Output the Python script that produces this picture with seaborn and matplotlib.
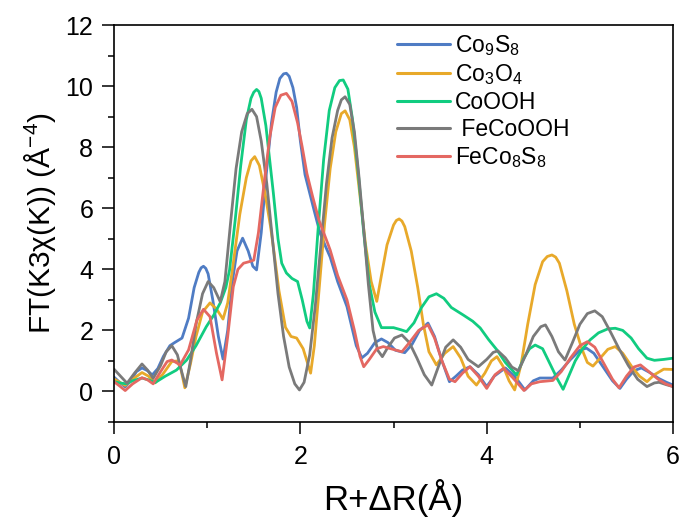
import numpy as np
import pandas as pd
import matplotlib
matplotlib.use("Agg")
import matplotlib.pyplot as plt
from matplotlib.ticker import MultipleLocator
import seaborn as sns

# |FT| of k^3-weighted EXAFS, R-space, per sample
r_co9s8 = [0.00, 0.06, 0.12, 0.18, 0.24, 0.30, 0.36, 0.41, 0.47, 0.53, 0.60, 0.65, 0.73, 0.80, 0.86, 0.91,
           0.935, 0.96, 0.985, 1.01, 1.06, 1.12, 1.17, 1.22, 1.27, 1.32, 1.38, 1.44, 1.49, 1.53, 1.58, 1.63, 1.69, 1.74,
           1.78, 1.82, 1.85, 1.88, 1.92, 1.96, 2.00, 2.05, 2.10, 2.15, 2.21, 2.27, 2.32, 2.40, 2.50, 2.60, 2.66, 2.72,
           2.80, 2.87, 2.94, 3.02, 3.12, 3.20, 3.28, 3.37, 3.44, 3.52, 3.60, 3.67, 3.74, 3.82, 3.91, 4.00,
           4.08, 4.20, 4.30, 4.41, 4.50, 4.57, 4.71, 4.80, 4.90, 5.00, 5.07, 5.15, 5.25, 5.35, 5.43, 5.50,
           5.58, 5.66, 5.75, 5.85, 5.93, 6.00]
ft_co9s8 = [0.47, 0.30, 0.15, 0.35, 0.65, 0.77, 0.68, 0.54, 0.75, 1.15, 1.50, 1.60, 1.75, 2.40, 3.40, 3.90,
            4.05, 4.10, 4.03, 3.85, 3.00, 1.80, 1.06, 2.00, 3.60, 4.60, 5.02, 4.60, 4.10, 3.98, 5.20, 7.00, 8.80, 9.80,
            10.25, 10.40, 10.42, 10.32, 9.95, 9.30, 8.20, 7.10, 6.50, 5.90, 5.20, 4.75, 4.40, 3.60, 2.78, 1.50, 1.10, 1.25,
            1.60, 1.72, 1.60, 1.35, 1.27, 1.55, 2.00, 2.24, 1.80, 1.00, 0.32, 0.50, 0.70, 0.81, 0.55, 0.16,
            0.50, 0.77, 0.50, 0.05, 0.35, 0.44, 0.44, 0.70, 1.05, 1.35, 1.42, 1.25, 0.80, 0.35, 0.10, 0.40,
            0.68, 0.77, 0.62, 0.42, 0.30, 0.21]

r_co3o4 = [0.00, 0.06, 0.12, 0.20, 0.30, 0.37, 0.44, 0.52, 0.62, 0.68, 0.72, 0.76, 0.82, 0.88, 0.95, 1.03,
           1.10, 1.17, 1.22, 1.28, 1.35, 1.42, 1.47, 1.51, 1.56, 1.62, 1.68, 1.71, 1.77, 1.84, 1.90, 1.96,
           2.03, 2.08, 2.11, 2.15, 2.20, 2.26, 2.32, 2.38, 2.44, 2.48, 2.53, 2.58, 2.64, 2.70, 2.76, 2.82,
           2.87, 2.93, 3.00, 3.03, 3.06, 3.09, 3.12, 3.19, 3.26, 3.32, 3.38, 3.46, 3.55, 3.64, 3.72, 3.80, 3.89, 3.98,
           4.05, 4.11, 4.18, 4.24, 4.30, 4.37, 4.44, 4.52, 4.60, 4.65, 4.70, 4.74, 4.78, 4.86, 4.94, 5.02, 5.08, 5.14,
           5.22, 5.30, 5.38, 5.46, 5.56, 5.64, 5.72, 5.80, 5.90, 6.00]
ft_co3o4 = [0.41, 0.30, 0.20, 0.40, 0.62, 0.50, 0.28, 0.55, 0.98, 1.00, 0.70, 0.12, 0.90, 1.80, 2.60, 2.90,
            2.70, 2.37, 2.90, 4.20, 5.80, 7.00, 7.55, 7.69, 7.40, 6.50, 5.40, 4.73, 3.30, 2.10, 1.80, 1.75,
            1.40, 0.90, 0.60, 1.50, 3.30, 5.50, 7.30, 8.50, 9.10, 9.19, 8.90, 8.00, 6.40, 4.80, 3.60, 2.95,
            3.80, 4.80, 5.45, 5.60, 5.65, 5.58, 5.40, 4.60, 3.40, 2.20, 1.30, 0.87, 1.25, 1.47, 1.10, 0.50, 0.21, 0.60,
            1.00, 1.14, 0.80, 0.35, 0.05, 0.90, 2.20, 3.50, 4.25, 4.42, 4.47, 4.40, 4.20, 3.30, 2.20, 1.40, 0.95, 0.83,
            1.10, 1.38, 1.47, 1.25, 0.80, 0.50, 0.32, 0.55, 0.73, 0.72]

r_cooh = [0.00, 0.06, 0.13, 0.20, 0.30, 0.37, 0.44, 0.55, 0.67, 0.78, 0.88, 0.99, 1.07, 1.14, 1.20, 1.24,
          1.30, 1.36, 1.42, 1.47, 1.50, 1.53, 1.555, 1.58, 1.63, 1.67, 1.71, 1.76, 1.80, 1.85, 1.91, 1.97, 2.02, 2.07,
          2.10, 2.14, 2.19, 2.25, 2.31, 2.37, 2.42, 2.46, 2.51, 2.56, 2.62, 2.68, 2.74, 2.80, 2.87, 3.00,
          3.08, 3.14, 3.22, 3.30, 3.38, 3.46, 3.54, 3.62, 3.75, 3.85, 3.93, 4.02, 4.11, 4.20, 4.32, 4.40,
          4.46, 4.52, 4.60, 4.68, 4.76, 4.82, 4.88, 4.95, 5.03, 5.11, 5.20, 5.30, 5.38, 5.46, 5.55, 5.63,
          5.72, 5.80, 5.90, 6.00]
ft_cooh = [0.32, 0.28, 0.25, 0.35, 0.44, 0.38, 0.29, 0.50, 0.70, 1.03, 1.50, 2.12, 2.50, 2.90, 3.40, 3.98,
           5.60, 7.40, 8.90, 9.60, 9.80, 9.89, 9.82, 9.60, 8.70, 7.60, 6.50, 5.00, 4.20, 3.88, 3.70, 3.60, 3.00, 2.30,
           2.08, 3.20, 5.30, 7.60, 9.20, 9.95, 10.18, 10.20, 9.90, 8.90, 7.20, 5.20, 3.50, 2.60, 2.09, 2.09,
           2.02, 1.96, 2.25, 2.75, 3.10, 3.20, 3.05, 2.75, 2.50, 2.30, 2.08, 1.70, 1.36, 0.95, 0.54, 1.10,
           1.40, 1.52, 1.40, 0.90, 0.40, 0.07, 0.50, 1.00, 1.40, 1.69, 1.92, 2.05, 2.07, 2.00, 1.75, 1.40,
           1.09, 1.02, 1.05, 1.09]

r_fecooh = [0.00, 0.07, 0.14, 0.22, 0.30, 0.36, 0.42, 0.50, 0.56, 0.62, 0.68, 0.73, 0.77, 0.82, 0.88, 0.95,
            1.01, 1.07, 1.14, 1.19, 1.25, 1.31, 1.37, 1.43, 1.48, 1.53, 1.58, 1.64, 1.70, 1.76, 1.82, 1.88,
            1.94, 1.99, 2.04, 2.10, 2.16, 2.22, 2.28, 2.34, 2.40, 2.44, 2.48, 2.53, 2.58, 2.63, 2.68, 2.73,
            2.78, 2.83, 2.88, 2.94, 3.01, 3.09, 3.17, 3.25, 3.33, 3.41, 3.48, 3.56, 3.64, 3.72, 3.80, 3.91,
            4.00, 4.07, 4.12, 4.20, 4.27, 4.34, 4.42, 4.50, 4.58, 4.63, 4.70, 4.77, 4.84, 4.92, 5.00, 5.08,
            5.16, 5.24, 5.32, 5.42, 5.52, 5.62, 5.72, 5.80, 5.85, 5.93, 6.00]
ft_fecooh = [0.73, 0.50, 0.27, 0.60, 0.90, 0.70, 0.43, 0.85, 1.30, 1.50, 1.20, 0.60, 0.16, 1.00, 2.20, 3.20,
             3.60, 3.40, 2.94, 3.60, 5.50, 7.30, 8.50, 9.10, 9.24, 9.00, 8.20, 6.80, 5.00, 3.20, 1.80, 0.80,
             0.25, 0.05, 0.30, 1.20, 2.80, 4.80, 6.80, 8.30, 9.20, 9.55, 9.65, 9.40, 8.50, 7.00, 5.30, 3.50,
             2.00, 1.35, 1.14, 1.45, 1.75, 1.85, 1.60, 1.10, 0.55, 0.21, 0.80, 1.45, 1.69, 1.45, 1.05, 0.81,
             1.05, 1.28, 1.33, 1.10, 0.80, 0.68, 1.20, 1.80, 2.12, 2.18, 1.80, 1.30, 1.03, 1.60, 2.20, 2.55,
             2.64, 2.45, 2.00, 1.40, 0.85, 0.40, 0.16, 0.28, 0.30, 0.22, 0.16]

r_feco8s8 = [0.00, 0.06, 0.12, 0.20, 0.30, 0.36, 0.42, 0.50, 0.57, 0.62, 0.71, 0.80, 0.89, 0.96, 1.03, 1.10,
             1.16, 1.22, 1.28, 1.33, 1.39, 1.45, 1.50, 1.55, 1.61, 1.67, 1.73, 1.79, 1.85, 1.91, 1.97, 2.02,
             2.07, 2.13, 2.20, 2.28, 2.32, 2.40, 2.50, 2.58, 2.64, 2.68, 2.74, 2.82, 2.89, 2.97, 3.09, 3.17,
             3.27, 3.37, 3.44, 3.52, 3.60, 3.66, 3.74, 3.82, 3.91, 4.00, 4.09, 4.18, 4.28, 4.40, 4.48, 4.57,
             4.71, 4.80, 4.90, 5.00, 5.08, 5.16, 5.26, 5.35, 5.42, 5.50, 5.58, 5.65, 5.74, 5.84, 5.92, 6.00]
ft_feco8s8 = [0.32, 0.18, 0.03, 0.25, 0.45, 0.38, 0.25, 0.65, 0.98, 1.03, 0.87, 1.36, 2.34, 2.69, 2.45, 1.25,
              0.38, 1.80, 3.43, 4.00, 4.20, 4.25, 4.30, 5.20, 6.80, 8.30, 9.30, 9.70, 9.76, 9.50, 8.80, 8.00,
              7.14, 6.40, 5.60, 4.96, 4.63, 3.80, 3.00, 2.00, 1.15, 0.81, 1.05, 1.40, 1.47, 1.40, 1.30, 1.60,
              2.00, 2.18, 1.75, 1.00, 0.40, 0.32, 0.60, 0.81, 0.50, 0.10, 0.55, 0.76, 0.45, 0.03, 0.25, 0.32,
              0.36, 0.65, 1.10, 1.50, 1.63, 1.45, 0.90, 0.40, 0.12, 0.50, 0.80, 0.87, 0.65, 0.40, 0.25, 0.16]

labels = [r"Co$_\mathregular{9}$S$_\mathregular{8}$",
          r"Co$_\mathregular{3}$O$_\mathregular{4}$",
          "CoOOH",
          " FeCoOOH",
          r"FeCo$_\mathregular{8}$S$_\mathregular{8}$"]
colors = ["#4f7cc4", "#e8a92a", "#11cc80", "#7a7a7a", "#e46862"]

frames = []
for lab, r, v in zip(labels,
                     [r_co9s8, r_co3o4, r_cooh, r_fecooh, r_feco8s8],
                     [ft_co9s8, ft_co3o4, ft_cooh, ft_fecooh, ft_feco8s8]):
    frames.append(pd.DataFrame({"R": r, "FT": v, "sample": lab}))
df = pd.concat(frames, ignore_index=True)

sns.set_theme(style="ticks")
plt.rcParams["font.family"] = ["Liberation Sans", "DejaVu Sans"]
plt.rcParams["mathtext.fontset"] = "custom"
plt.rcParams["mathtext.rm"] = "Liberation Sans"
plt.rcParams["mathtext.it"] = "Liberation Sans:italic"
plt.rcParams["text.color"] = "black"
plt.rcParams["axes.labelcolor"] = "black"

fig = plt.figure(figsize=(6.84, 5.21), dpi=100)
ax = fig.add_axes([0.1667, 0.19, 0.8173, 0.762])

sns.lineplot(data=df, x="R", y="FT", hue="sample", palette=colors, hue_order=labels,
             estimator=None, sort=False, linewidth=2.0, ax=ax)
for ln in ax.get_lines():
    ln.set_solid_joinstyle("round")

ax.set_xlim(0, 6)
ax.set_ylim(-1, 12)
ax.xaxis.set_major_locator(MultipleLocator(2))
ax.xaxis.set_minor_locator(MultipleLocator(1))
ax.yaxis.set_major_locator(MultipleLocator(2))
ax.yaxis.set_minor_locator(MultipleLocator(1))
ax.tick_params(which="major", direction="out", length=8.5, width=1.1, labelsize=18,
               colors="black", labelcolor="black")
ax.tick_params(axis="y", which="major", pad=6.5)
ax.tick_params(axis="x", which="major", pad=8)
ax.tick_params(which="minor", direction="out", length=4.5, width=1.1, colors="black")
for s in ax.spines.values():
    s.set_linewidth(1.2)
    s.set_color("black")

ax.set_xlabel("R+ΔR(Å)", fontsize=25, labelpad=7)
ax.set_ylabel(r"FT(K3χ(K)) (Å$^{\mathregular{-4}}$)", fontsize=21.5, labelpad=5)

leg = ax.legend(loc="upper left", bbox_to_anchor=(0.469, 1.032), frameon=False, fontsize=16.5,
                handlelength=2.31, handletextpad=0.22, labelspacing=0.18)
for line in leg.get_lines():
    line.set_linewidth(2.2)

fig.savefig("out.png", dpi=100)
